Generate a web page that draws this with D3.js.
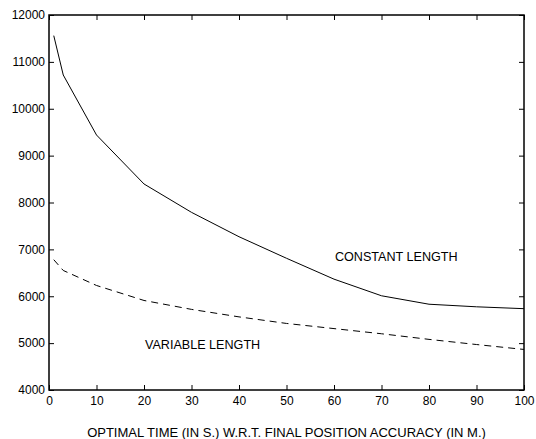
<!DOCTYPE html>
<html>
<head>
<meta charset="utf-8">
<script src="https://cdn.jsdelivr.net/npm/d3@7"></script>
<style>
  html, body { margin: 0; padding: 0; background: #fff; }
  svg text { font-family: "Liberation Sans", Arial, Helvetica, sans-serif; fill: #000; }
</style>
</head>
<body>
<svg id="chart" width="536" height="439"></svg>
<script>
const xValues = [1, 3, 10, 20, 30, 40, 50, 60, 70, 80, 90, 100];
const constantLength = [11560, 10720, 9440, 8395, 7790, 7270, 6810, 6365, 6010, 5830, 5775, 5735];
const variableLength = [6780, 6550, 6230, 5910, 5720, 5560, 5420, 5310, 5200, 5080, 4970, 4865];
const xTicks = [0, 10, 20, 30, 40, 50, 60, 70, 80, 90, 100];
const yTicks = [4000, 5000, 6000, 7000, 8000, 9000, 10000, 11000, 12000];
const xLabel = "OPTIMAL TIME (IN S.) W.R.T. FINAL POSITION ACCURACY (IN M.)";
const labelConstant = "CONSTANT LENGTH";
const labelVariable = "VARIABLE LENGTH";

const svg = d3.select("#chart");
const mLeft = 49, mRight = 524, mTop = 15, mBottom = 390;

const x = d3.scaleLinear().domain([0, 100]).range([mLeft, mRight]);
const y = d3.scaleLinear().domain([4000, 12000]).range([mBottom, mTop]);

const tickFont = "12px";

const gx = svg.append("g").attr("transform", `translate(0,${mBottom})`)
  .call(d3.axisBottom(x).tickValues(xTicks).tickSize(-5).tickPadding(6).tickFormat(d3.format("d")));
const gxt = svg.append("g").attr("transform", `translate(0,${mTop})`)
  .call(d3.axisTop(x).tickValues(xTicks).tickSize(-5).tickFormat(""));
const gy = svg.append("g").attr("transform", `translate(${mLeft},0)`)
  .call(d3.axisLeft(y).tickValues(yTicks).tickSize(-5).tickPadding(4).tickFormat(d3.format("d")));
const gyr = svg.append("g").attr("transform", `translate(${mRight},0)`)
  .call(d3.axisRight(y).tickValues(yTicks).tickSize(-5).tickFormat(""));

[gx, gxt, gy, gyr].forEach(g => {
  g.select(".domain").remove();
  g.selectAll(".tick line").attr("stroke", "#000").attr("stroke-width", 1);
  g.selectAll("text").style("font-size", tickFont).attr("fill", "#000")
    .style("font-family", '"Liberation Sans", Arial, Helvetica, sans-serif');
});

svg.append("rect")
  .attr("x", mLeft).attr("y", mTop)
  .attr("width", mRight - mLeft).attr("height", mBottom - mTop)
  .attr("fill", "none").attr("stroke", "#000").attr("stroke-width", 1.5);

const line = d3.line().x((d, i) => x(xValues[i])).y(d => y(d));

svg.append("path").datum(constantLength)
  .attr("d", line).attr("fill", "none").attr("stroke", "#000").attr("stroke-width", 1);
svg.append("path").datum(variableLength)
  .attr("d", line).attr("fill", "none").attr("stroke", "#000").attr("stroke-width", 1)
  .attr("stroke-dasharray", "7,5");

svg.append("text").attr("x", x(60.2)).attr("y", y(6750)).style("font-size", "12.6px").text(labelConstant);
svg.append("text").attr("x", x(20.2)).attr("y", y(4875)).style("font-size", "12.6px").text(labelVariable);
svg.append("text").attr("x", (mLeft + mRight) / 2).attr("y", 436.5)
  .attr("text-anchor", "middle").style("font-size", "13px").text(xLabel);
</script>
</body>
</html>
